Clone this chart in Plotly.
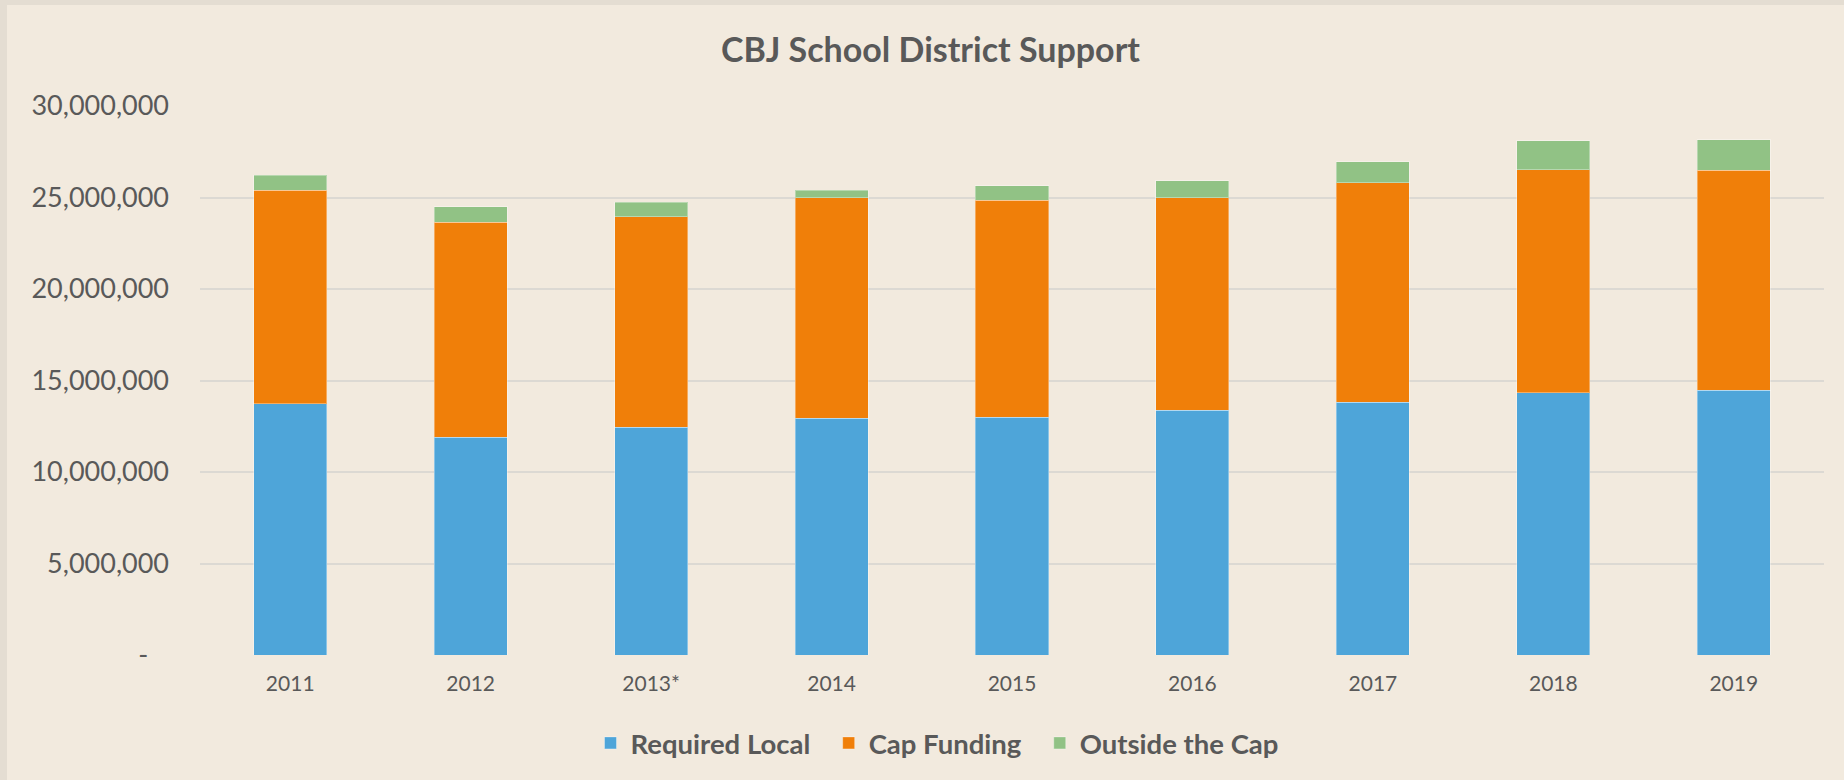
import plotly.graph_objects as go

years = ["2011", "2012", "2013*", "2014", "2015", "2016", "2017", "2018", "2019"]
required_local = [13730000, 11900000, 12440000, 12930000, 12990000, 13370000, 13810000, 14320000, 14480000]
cap_funding = [11680000, 11760000, 11510000, 12060000, 11860000, 11620000, 12000000, 12200000, 12010000]
outside_cap = [800000, 840000, 790000, 400000, 780000, 930000, 1150000, 1570000, 1670000]
series_names = ["Required Local", "Cap Funding", "Outside the Cap"]
colors = ["#4EA5D9", "#F07F09", "#91C285"]
y_ticks = [0, 5000000, 10000000, 15000000, 20000000, 25000000, 30000000]

W, H = 1844, 780
L, R, T, B = 200, 20, 106, 125
PW, PH = W - L - R, H - T - B
FONT = "Lato"
TXT = "#595959"
BG = "#F2EADE"
BORDER = "#E4DDD2"
PAD = "\u00a0" * 2

fig = go.Figure()
n = len(series_names)
for i, (name, vals, col) in enumerate(zip(series_names, [required_local, cap_funding, outside_cap], colors)):
    fig.add_trace(go.Bar(
        x=years, y=vals, name=name + (PAD if i < n - 1 else ""),
        marker=dict(color=col, line=dict(color="rgba(255,255,255,0.35)", width=1)),
    ))

ticktext = ["-\u00a0\u00a0\u00a0"] + [f"{v:,}" for v in y_ticks[1:]]

def px_x(p):
    return (p - L) / PW

def px_y(p):
    return (H - B - p) / PH

shapes = [
    dict(type="rect", xref="paper", yref="paper", x0=px_x(0), x1=px_x(7), y0=px_y(H), y1=px_y(0),
         fillcolor=BORDER, line=dict(width=0), layer="below"),
    dict(type="rect", xref="paper", yref="paper", x0=px_x(0), x1=px_x(W), y0=px_y(5), y1=px_y(0),
         fillcolor=BORDER, line=dict(width=0), layer="below"),
]

fig.update_layout(
    width=W, height=H,
    barmode="stack", bargap=0.595,
    paper_bgcolor=BG, plot_bgcolor=BG,
    margin=dict(l=L, r=R, t=T, b=B, autoexpand=False),
    title=dict(text="<b>CBJ School District Support</b>", x=930.5 / W, xanchor="center",
               y=1 - 50 / H, yanchor="middle", font=dict(family=FONT, size=34, color=TXT)),
    font=dict(family=FONT, color=TXT),
    xaxis=dict(showgrid=False, showline=False, ticks="", tickfont=dict(size=21, color=TXT),
               ticklabelstandoff=14, fixedrange=True),
    yaxis=dict(range=[0, 30000000], tickvals=y_ticks, ticktext=ticktext,
               showgrid=True, gridcolor="#DCD9D3", gridwidth=2, zeroline=False, showline=False,
               tickfont=dict(size=27, color=TXT), ticklabelstandoff=30, fixedrange=True),
    legend=dict(orientation="h", x=px_x(937), xanchor="center", y=px_y(743), yanchor="middle",
                font=dict(family=FONT, size=27.5, color=TXT, weight="bold"), itemwidth=30,
                bgcolor="rgba(0,0,0,0)", traceorder="normal"),
    shapes=shapes,
    showlegend=True,
)

fig.write_html(
    "out.html",
    config={"displayModeBar": False},
    post_script="document.body.style.margin='0';document.body.style.overflow='hidden';",
)
